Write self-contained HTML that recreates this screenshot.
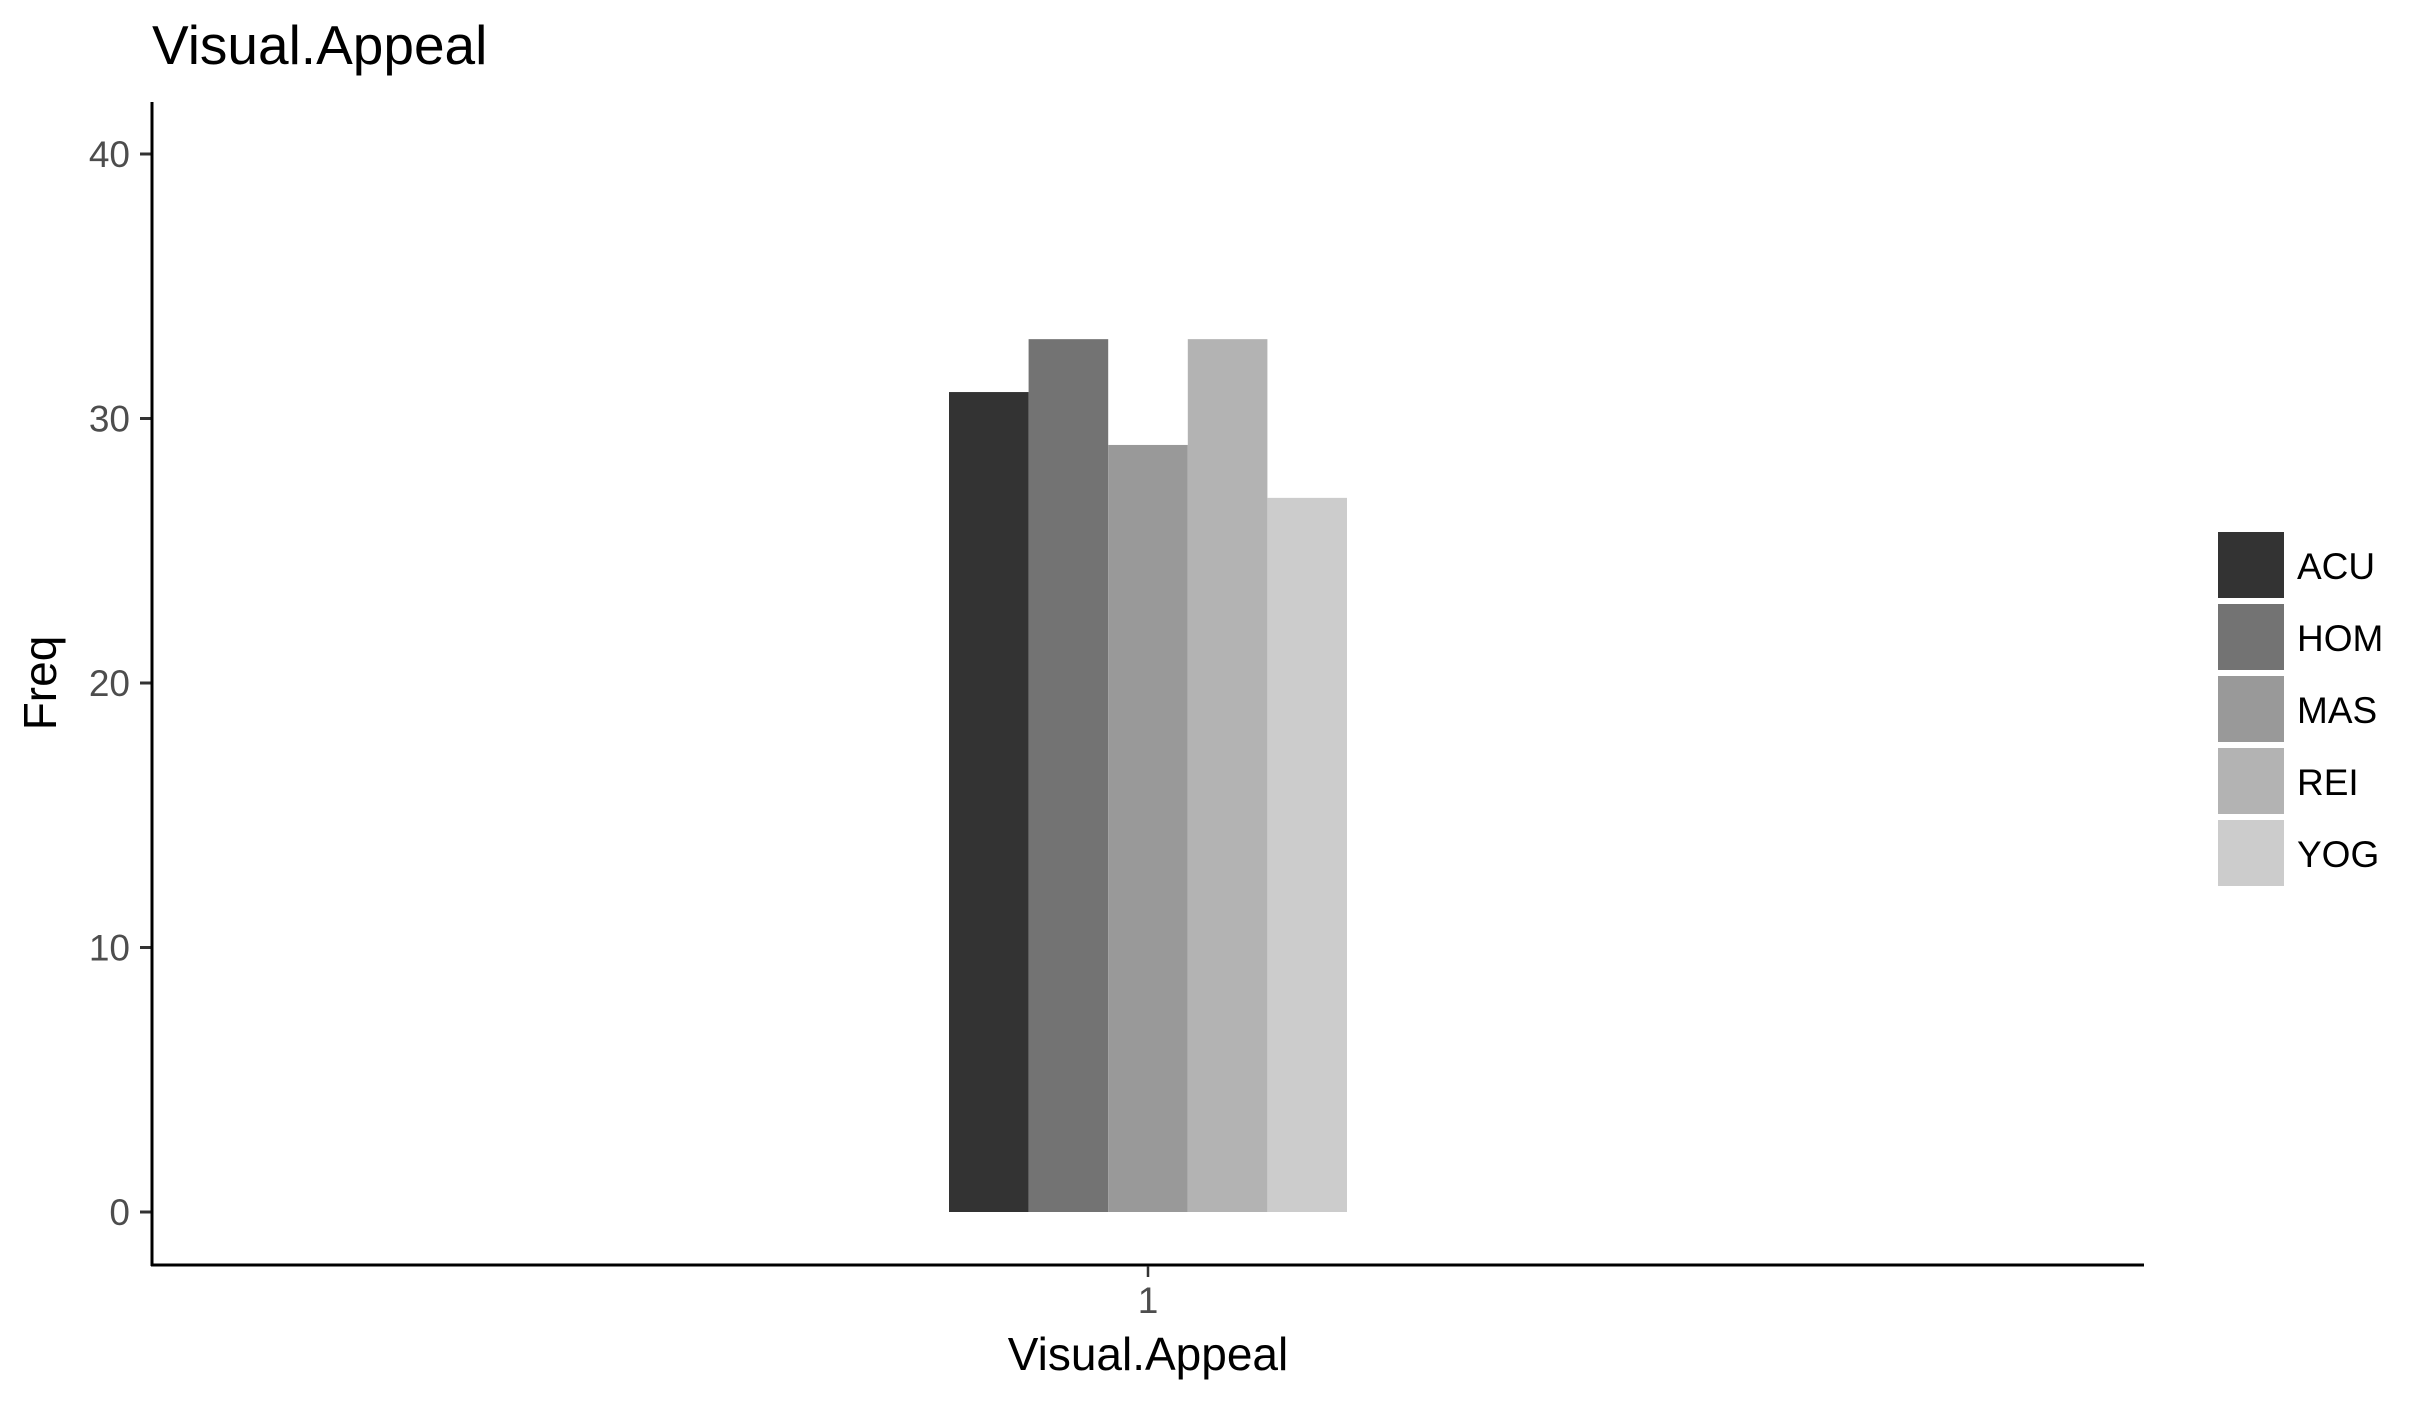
<!DOCTYPE html>
<html><head><meta charset="utf-8"><style>
html,body{margin:0;padding:0;background:#fff;}
svg{display:block;font-family:"Liberation Sans",Arial,sans-serif;}
</style></head><body>
<svg id="chart" width="2430" height="1404" viewBox="0 0 2430 1404" xmlns="http://www.w3.org/2000/svg">
<rect width="2430" height="1404" fill="#fff"/>
<text x="152" y="64" font-size="55" fill="#000">Visual.Appeal</text>
<g id="yaxis"></g>
<g id="bars"></g>
<line x1="152" y1="102" x2="152" y2="1266" stroke="#000" stroke-width="3"/>
<line x1="151" y1="1265" x2="2144" y2="1265" stroke="#000" stroke-width="3"/>
<line x1="1148" y1="1266" x2="1148" y2="1277" stroke="#333" stroke-width="2.5"/>
<text x="1148" y="1313" font-size="37" fill="#4d4d4d" text-anchor="middle">1</text>
<text x="1148" y="1370" font-size="46" fill="#000" text-anchor="middle">Visual.Appeal</text>
<text transform="translate(56,683) rotate(-90)" font-size="46" fill="#000" text-anchor="middle">Freq</text>
<g id="legend"></g>
</svg>
<script>
const categories = ["ACU","HOM","MAS","REI","YOG"];
const values = [31,33,29,33,27];
const colors = ["#333333","#737373","#999999","#b3b3b3","#cccccc"];
const yTicks = [0,10,20,30,40];

const NS="http://www.w3.org/2000/svg";
function y(v){return 1212 - v*26.45;}
const groupCenter=1148, barW=79.6;
function x(i){return groupCenter - barW*categories.length/2 + i*barW;}
function mk(tag,attrs,parent){const e=document.createElementNS(NS,tag);for(const k in attrs)e.setAttribute(k,attrs[k]);parent.appendChild(e);return e;}

const ya=document.getElementById('yaxis');
yTicks.forEach(t=>{
  const l=mk('line',{x1:140,x2:152,y1:y(t),y2:y(t),stroke:'#333','stroke-width':3},ya);
  
  
  const tx=mk('text',{x:130,y:y(t)+13,'font-size':37,fill:'#4d4d4d','text-anchor':'end'},ya);
  tx.textContent=t;
  
  
});

const bg=document.getElementById('bars');
values.forEach((v,i)=>{
  const r=mk('rect',{x:x(i),y:y(v),width:barW,height:y(0)-y(v),fill:colors[i]},bg);
  
  
});

const lg=document.getElementById('legend');
categories.forEach((c,i)=>{
  const top=532+i*72;
  const r=mk('rect',{x:2218,y:top,width:66,height:66,fill:colors[i]},lg);
  
  
  const t=mk('text',{x:2297,y:top+47,'font-size':37,fill:'#000'},lg);
  t.textContent=c;
  
  
});
</script>
</body></html>
